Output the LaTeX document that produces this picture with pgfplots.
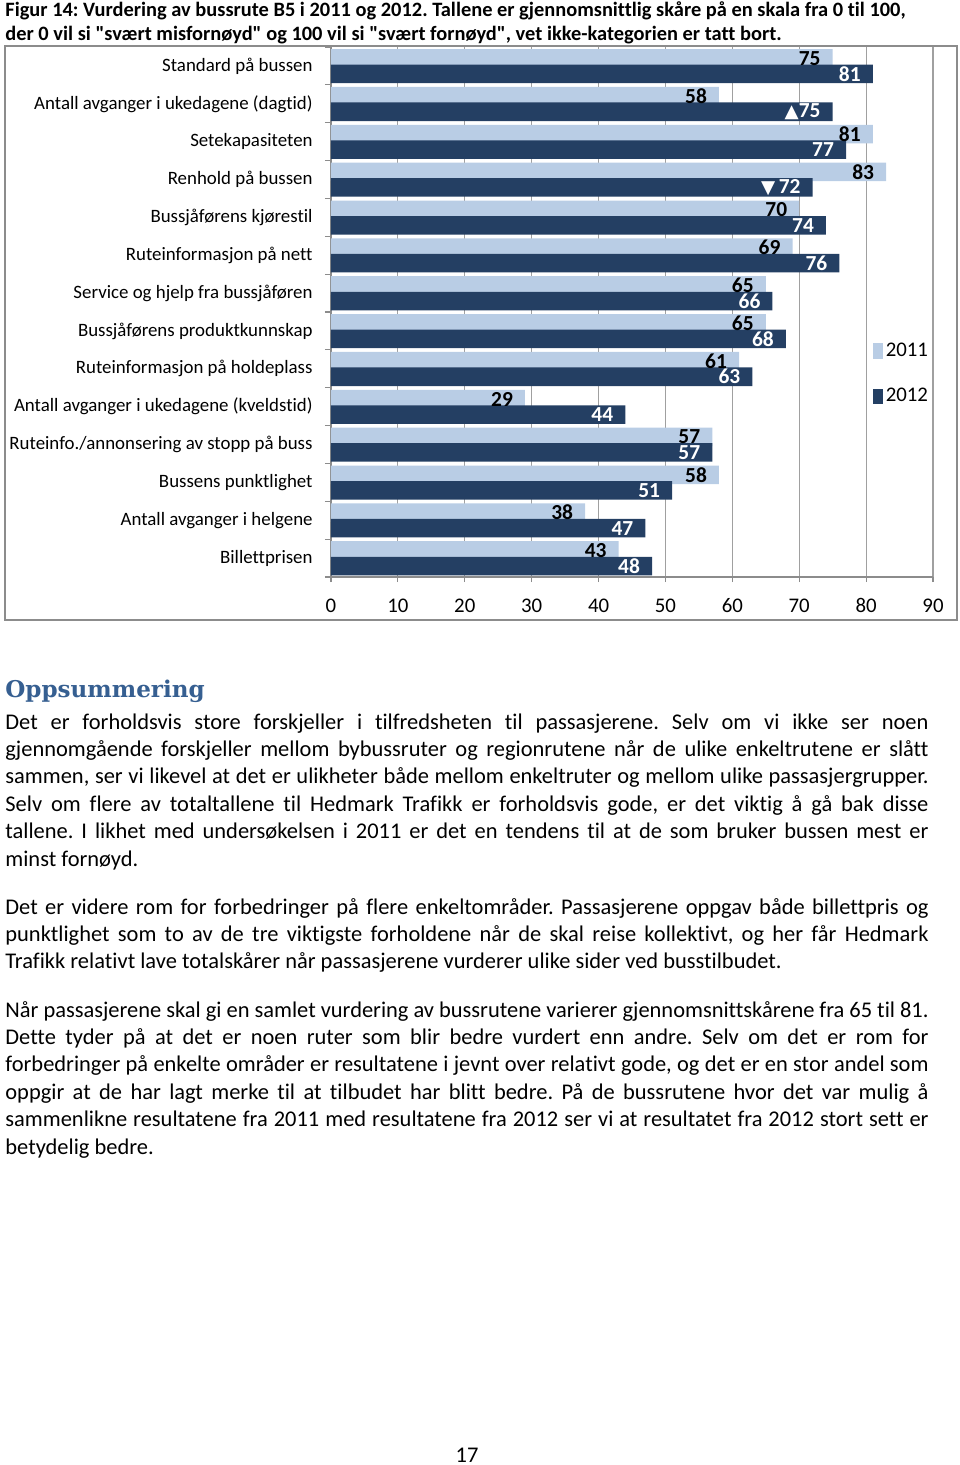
\documentclass[border=0pt]{standalone}
\usepackage{pgfplots}
\pgfplotsset{compat=1.18}
\usepackage{fontspec}
\setmainfont{Carlito}[Ligatures={TeXOff,NoCommon}]
\newfontfamily\headfont{DejaVu Serif}
\newfontfamily\symfont{DejaVu Sans}
\definecolor{light}{HTML}{B9CDE5}
\definecolor{dark}{HTML}{243F63}
\definecolor{axgray}{HTML}{8C8C8C}
\definecolor{gridgray}{HTML}{A0A0A0}
\definecolor{headblue}{HTML}{365F91}
\DeclareRobustCommand\up{{\symfont\fontsize{9}{9}\selectfont ▲}}
\DeclareRobustCommand\dn{{\symfont\fontsize{9}{9}\selectfont ▼}}
\newcommand\jline[1]{\makebox[452.3pt][s]{#1}}
\frenchspacing

\begin{document}
\begin{tikzpicture}[x=0.49pt,y=-0.49pt]
\path (0,0) rectangle (960,1465);

\begin{scope}[every node/.style={anchor=base west, inner sep=0pt}]
% caption
\node[font=\bfseries\fontsize{10}{12}\selectfont] at (5,16) {Figur 14: Vurdering av bussrute B5 i 2011 og 2012. Tallene er gjennomsnittlig skåre på en skala fra 0 til 100,};
\node[font=\bfseries\fontsize{10}{12}\selectfont] at (5,40) {der 0 vil si "svært misfornøyd" og 100 vil si "svært fornøyd", vet ikke-kategorien er tatt bort.};
% heading
\node[font=\headfont\bfseries\fontsize{11.3}{14}\selectfont, text=headblue] at (5,697) {Oppsummering};
% body text
\begin{scope}[font=\fontsize{11}{13.4}\selectfont]
\node at (5,729)    {\jline{Det er forholdsvis store forskjeller i tilfredsheten til passasjerene. Selv om vi ikke ser noen}};
\node at (5,756.4)  {\jline{gjennomgående forskjeller mellom bybussruter og regionrutene når de ulike enkeltrutene er slått}};
\node at (5,783.8)  {\jline{sammen, ser vi likevel at det er ulikheter både mellom enkeltruter og mellom ulike passasjergrupper.}};
\node at (5,811.2)  {\jline{Selv om flere av totaltallene til Hedmark Trafikk er forholdsvis gode, er det viktig å gå bak disse}};
\node at (5,838.6)  {\jline{tallene. I likhet med undersøkelsen i 2011 er det en tendens til at de som bruker bussen mest er}};
\node at (5,866)    {minst fornøyd.};
\node at (5,914)    {\jline{Det er videre rom for forbedringer på flere enkeltområder. Passasjerene oppgav både billettpris og}};
\node at (5,941.4)  {\jline{punktlighet som to av de tre viktigste forholdene når de skal reise kollektivt, og her får Hedmark}};
\node at (5,968.8)  {Trafikk relativt lave totalskårer når passasjerene vurderer ulike sider ved busstilbudet.};
\node at (5,1017)   {\jline{Når passasjerene skal gi en samlet vurdering av bussrutene varierer gjennomsnittskårene fra 65 til 81.}};
\node at (5,1044.4) {\jline{Dette tyder på at det er noen ruter som blir bedre vurdert enn andre. Selv om det er rom for}};
\node at (5,1071.8) {\jline{forbedringer på enkelte områder er resultatene i jevnt over relativt gode, og det er en stor andel som}};
\node at (5,1099.2) {\jline{oppgir at de har lagt merke til at tilbudet har blitt bedre. På de bussrutene hvor det var mulig å}};
\node at (5,1126.6) {\jline{sammenlikne resultatene fra 2011 med resultatene fra 2012 ser vi at resultatet fra 2012 stort sett er}};
\node at (5,1154)   {betydelig bedre.};
\node[anchor=base] at (467,1462) {17};
\end{scope}
\end{scope}

% chart frame
\draw[axgray, line width=1pt] (5,46) rectangle (957,620);

\begin{axis}[
  at={(162.19pt,-23.03pt)}, anchor=north west,
  scale only axis, width=295pt, height=259.7pt,
  xbar, bar width=0.49,
  xmin=0, xmax=90, xtick={0,10,...,90},
  ymin=-0.5, ymax=13.5,
  ytick={0,...,13},
  yticklabels={Billettprisen, Antall avganger i helgene, Bussens punktlighet,
    Ruteinfo./annonsering av stopp på buss, Antall avganger i ukedagene (kveldstid),
    Ruteinformasjon på holdeplass, Bussjåførens produktkunnskap,
    Service og hjelp fra bussjåføren, Ruteinformasjon på nett,
    Bussjåførens kjørestil, Renhold på bussen, Setekapasiteten,
    Antall avganger i ukedagene (dagtid), Standard på bussen},
  minor ytick={-0.5,0.5,...,13.5},
  axis x line*=bottom, axis y line*=left,
  axis line style={draw=axgray, line width=0.6pt},
  tick align=outside,
  major tick length=2.5pt, minor tick length=3pt,
  major x tick style={draw=axgray, line width=0.6pt},
  major y tick style={draw=none},
  minor y tick style={draw=axgray, line width=0.6pt},
  xmajorgrids, major grid style={draw=gridgray, line width=0.6pt},
  ticklabel style={font=\fontsize{10.2}{12}\selectfont},
  yticklabel style={font=\fontsize{9.25}{11}\selectfont, xshift=-3pt},
  xticklabel style={anchor=base, yshift=-14.7pt},
  /pgf/number format/assume math mode=true,
  every node near coord/.append style={anchor=east, xshift=-2.4pt, inner ysep=0pt,
    font=\bfseries\fontsize{10.5}{12}\selectfont},
  legend cell align=left,
  legend style={draw=none, fill=none, at={(axis cs:80.9,5.78)}, anchor=north west,
    inner sep=0pt, font=\fontsize{10.2}{12}\selectfont, row sep=11pt,
    nodes={inner sep=1.5pt}},
  legend image code/.code={\fill[#1] (0pt,-3.75pt) rectangle (5pt,3.75pt);},
  clip=false,
]
% 2011
\addplot[fill=light, draw=none, bar shift=0.2, point meta=x,
  nodes near coords, nodes near coords style={text=black}]
  coordinates {(43,0) (38,1) (58,2) (57,3) (29,4) (61,5) (65,6) (65,7)
               (69,8) (70,9) (83,10) (81,11) (58,12) (75,13)};
% 2012
\addplot[fill=dark, draw=none, bar shift=-0.21, point meta=explicit symbolic,
  nodes near coords={\pgfplotspointmeta}, nodes near coords style={text=white}]
  coordinates {(48,0) [48] (47,1) [47] (51,2) [51] (57,3) [57] (44,4) [44]
               (63,5) [63] (68,6) [68] (66,7) [66] (76,8) [76] (74,9) [74]
               (72,10) [\dn\,72] (77,11) [77] (75,12) [\up75] (81,13) [81]};
\legend{2011,2012}
\end{axis}
\end{tikzpicture}
\end{document}
